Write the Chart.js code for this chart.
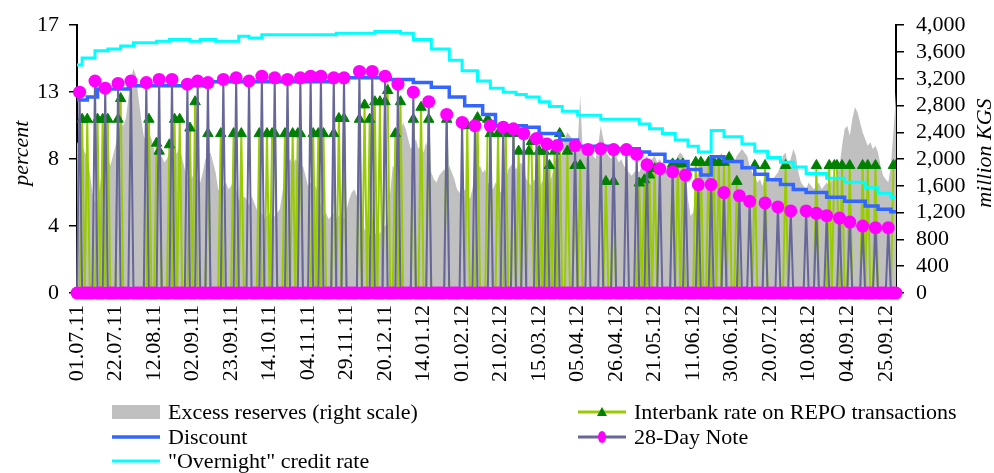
<!DOCTYPE html>
<html>
<head>
<meta charset="utf-8">
<script src="https://cdn.jsdelivr.net/npm/chart.js@4.4.0/dist/chart.umd.min.js"></script>
<style>
body { margin: 0; background: #fff; }
#wrap { position: relative; width: 994px; height: 473px; overflow: hidden; }
#legend { position: absolute; left: 0; top: 0; width: 994px; height: 473px; pointer-events: none; }
.item { position: absolute; height: 24px; display: flex; align-items: center; font-family: "Liberation Serif", "Times New Roman", serif; font-size: 22px; color: #000; white-space: nowrap; }
.item svg { margin-right: 6px; }
</style>
</head>
<body>
<div id="wrap">
<canvas id="myChart" width="994" height="400"></canvas>
<div id="legend"></div>
</div>
<script>
// tick labels, one every 15 working days
const tickLabels = ["01.07.11","22.07.11","12.08.11","02.09.11","23.09.11","14.10.11","04.11.11","29.11.11",
    "20.12.11","14.01.12","01.02.12","21.02.12","15.03.12","05.04.12","26.04.12","21.05.12","11.06.12",
    "30.06.12","20.07.12","10.08.12","04.09.12","25.09.12"];

// excess reserves, million KGS, one value per working day
const excessReserves = [
    2230,2300,2200,2100,2040,1800,1500,1350,1400,1600,1950,2050,2000,1900,2050,2200,2400,2550,2500,2600,
    2900,3200,3350,3250,2900,2600,2350,2250,2400,2300,2150,2000,1900,2050,1950,2000,2100,2150,2050,2100,
    2200,2000,1850,1700,1650,1750,1600,1700,1650,1800,2000,2050,2100,1950,1800,1550,1500,1600,1650,1550,
    1600,1700,1550,1400,1350,1450,1400,1300,1450,1350,1250,1150,1200,1100,1150,1200,1100,1150,1200,1250,
    1500,1800,1950,2000,1900,2000,1950,1850,1900,1750,1600,1650,1550,1600,1450,1300,1150,1200,1100,1150,
    1200,1100,1150,1200,1100,1250,1400,1500,1550,1450,1500,1200,950,900,850,950,900,850,900,950,
    1000,1050,1500,1900,1850,2100,2400,2550,2450,2300,2150,2200,2300,2150,2200,2100,2250,2100,1800,1700,
    1650,1750,1800,1850,1750,1900,1800,1700,1550,1500,1450,1550,1500,1400,1550,1800,1850,1900,1800,1850,
    1650,1600,1550,1650,1600,1500,1600,1700,1850,1900,1950,1850,1900,1950,1850,1700,1650,1600,1700,1650,
    1550,1650,1700,1600,1650,1750,1950,2050,2000,2100,2300,2400,2350,2300,2250,2200,2950,2100,2050,2000,
    2100,2050,2000,2200,2500,2300,2100,2050,2000,2100,2050,1950,2000,1900,1850,1800,1750,1800,1850,1800,
    1900,2000,2050,1950,2000,2050,1950,2000,1900,1850,1900,1950,1850,1900,2050,2100,2050,1900,1400,1150,
    1200,1500,1900,1950,2000,1950,1900,2000,2050,1950,2000,2100,2000,1950,2050,2000,1950,2050,2100,2150,
    2100,2050,1900,1800,1750,1650,1700,1600,1750,1700,1650,1700,1750,1800,1900,2050,2100,1900,2000,2150,
    2050,1800,1650,1600,1550,1650,1600,1550,1600,1650,1550,1600,1650,1600,1700,1650,1750,1900,2200,2450,
    2500,2350,2600,2780,2700,2550,2400,2300,2200,2250,2150,2200,2100,1900,1750,1700,1650,1900,2400,3000
];

// discount rate, %, day index where a new rate starts
const discountDays = [0,4,8,20,50,100,122,131,138,145,151,158,163,175,180,188,195,208,219,223,229,238,243,247,252,259,264,269,274,279,284,292,299,307,312,317,319];
const discountRates = [12.1,12.3,12.8,13.0,13.25,13.5,13.4,13.2,12.9,12.3,11.75,11.2,10.5,10.4,10.0,9.6,9.2,9.05,8.85,8.7,8.25,7.75,7.4,8.55,8.25,7.85,7.45,7.1,6.8,6.5,6.3,6.0,5.75,5.45,5.25,5.1,5.1];

// "overnight" credit rate, %
const overnightDays = [0,2,7,12,17,22,31,36,44,48,54,63,67,72,101,116,126,131,138,145,150,156,161,166,171,175,180,184,189,195,204,219,223,228,233,238,242,247,252,259,264,269,274,279,284,292,299,307,312,317,319];
const overnightRates = [14.3,14.75,15.2,15.3,15.5,15.7,15.8,15.9,15.8,15.9,15.8,16.1,16.0,16.2,16.3,16.4,16.3,15.9,15.3,14.6,13.95,13.3,12.85,12.6,12.45,12.3,12.0,11.7,11.4,11.15,10.9,10.6,10.3,10.0,9.6,9.2,8.85,10.2,9.8,9.35,8.9,8.5,8.2,7.9,7.5,7.2,6.95,6.6,6.25,6.0,6.0];

// interbank REPO rate, %, only on days with deals (0 otherwise)
const repoDays = [2,4,8,10,12,16,17,28,31,32,36,38,40,44,46,51,56,61,64,71,74,76,77,81,84,86,87,92,94,96,
    100,102,104,110,112,114,116,118,120,121,124,126,131,134,137,144,152,156,160,161,164,167,170,172,176,177,
    180,182,184,186,188,191,194,196,206,209,219,221,223,225,232,234,236,241,243,246,248,250,252,254,257,
    264,268,276,288,293,295,296,298,301,306,308,311,318,319];
const repoRates = [10.9,10.9,10.9,10.9,10.9,10.9,12.2,10.9,9.4,8.9,9.3,10.9,10.9,10.35,12.0,10.0,10.0,10.0,10.0,10.0,
    10.0,10.0,10.0,10.0,10.0,10.0,10.0,10.0,10.0,10.0,10.0,10.95,10.95,10.9,11.8,10.9,12.0,12.0,12.0,12.7,
    10.0,12.0,10.9,11.65,10.9,10.9,10.5,11.0,10.9,10.0,10.0,10.0,10.0,8.9,8.9,9.5,8.9,8.9,8.0,8.9,
    10.0,8.9,8.0,8.0,7.0,7.0,6.9,7.1,7.4,7.8,8.1,8.1,8.1,8.2,8.2,8.2,8.2,8.2,8.2,8.5,
    7.0,8.0,8.0,8.0,8.0,8.0,8.0,8.0,8.0,8.0,8.0,8.0,8.0,8.0,8.0];

// 28-day notes, %, auction days only (0 otherwise)
const noteDays = [1,7,11,16,21,27,32,37,43,47,51,57,62,67,72,77,82,87,91,95,100,104,110,115,120,125,131,137,144,150,
    155,161,166,170,174,179,183,187,194,199,204,209,214,218,222,227,232,237,242,247,252,258,262,268,273,278,284,288,292,297,
    301,306,311,316];
const noteRates = [12.6,13.3,12.85,13.15,13.3,13.2,13.4,13.4,13.1,13.3,13.2,13.4,13.5,13.3,13.6,13.5,13.4,13.5,13.6,13.6,
    13.5,13.5,13.9,13.9,13.6,13.1,12.6,12.0,11.2,10.7,10.5,10.5,10.4,10.3,10.0,9.7,9.35,9.25,9.25,9.0,
    9.05,9.0,9.0,8.7,8.05,7.8,7.6,7.4,6.8,6.8,6.3,6.1,5.75,5.65,5.4,5.15,5.15,5.0,4.85,4.7,
    4.45,4.2,4.1,4.1];

const dayCount = excessReserves.length;

const toPoints = (days, rates) => days.map((d, i) => ({x: d, y: rates[i]}));

const dailySeries = (days, rates) => {
    const out = [];
    for (let d = 0; d < dayCount; d++) {
        const k = days.indexOf(d);
        out.push({x: d, y: k >= 0 ? rates[k] : 0});
    }
    return out;
};

const serif = '"Liberation Serif", "Times New Roman", serif';

const axisTitles = {
    id: 'axisTitles',
    afterDraw(chart) {
        const c = chart.ctx;
        const area = chart.chartArea;
        const midY = (area.top + area.bottom) / 2 - 6;
        c.save();
        c.font = 'italic 22px ' + serif;
        c.fillStyle = '#000';
        c.textAlign = 'center';
        c.textBaseline = 'middle';
        c.translate(22, midY);
        c.rotate(-Math.PI / 2);
        c.fillText('percent', 0, 0);
        c.restore();
        c.save();
        c.font = 'italic 22px ' + serif;
        c.fillStyle = '#000';
        c.textAlign = 'center';
        c.textBaseline = 'middle';
        c.translate(985, midY);
        c.rotate(-Math.PI / 2);
        c.fillText('million KGS', 0, 0);
        c.restore();
    }
};

const ctx = document.getElementById('myChart').getContext('2d');
const myChart = new Chart(ctx, {
    type: 'line',
    data: {
        datasets: [{
            label: 'Excess reserves (right scale)',
            data: excessReserves.map((v, i) => ({x: i, y: v})),
            yAxisID: 'y1',
            fill: 'origin',
            backgroundColor: '#C0C0C0',
            borderColor: '#C0C0C0',
            borderWidth: 0,
            pointRadius: 0,
            order: 10
        }, {
            label: 'Interbank rate on REPO transactions',
            data: dailySeries(repoDays, repoRates),
            yAxisID: 'y',
            borderColor: '#99CC00',
            borderWidth: 2,
            pointStyle: 'triangle',
            pointRadius: c => (c.raw && c.raw.y > 0 ? 6 : 0),
            pointBackgroundColor: '#008000',
            pointBorderColor: '#008000',
            pointBorderWidth: 1,
            order: 4
        }, {
            label: 'Discount',
            data: toPoints(discountDays, discountRates),
            yAxisID: 'y',
            stepped: 'before',
            borderColor: '#3366FF',
            borderWidth: 3.5,
            pointRadius: 0,
            order: 3
        }, {
            label: '28-Day Note',
            data: dailySeries(noteDays, noteRates),
            yAxisID: 'y',
            borderColor: '#666699',
            borderWidth: 2,
            pointRadius: 6.5,
            pointBackgroundColor: '#FF00FF',
            pointBorderColor: '#FF00FF',
            pointBorderWidth: 0,
            clip: false,
            order: 2
        }, {
            label: '"Overnight" credit rate',
            data: toPoints(overnightDays, overnightRates),
            yAxisID: 'y',
            stepped: 'before',
            borderColor: '#00FFFF',
            borderWidth: 3,
            pointRadius: 0,
            order: 1
        }]
    },
    options: {
        responsive: false,
        animation: false,
        devicePixelRatio: 1,
        layout: {padding: {top: 22, left: 0, right: 0, bottom: 0}},
        plugins: {legend: {display: false}, tooltip: {enabled: false}},
        scales: {
            x: {
                type: 'linear',
                min: 0,
                max: dayCount - 1,
                grid: {display: false},
                border: {display: true, color: '#000', width: 1.5},
                afterFit: s => { s.height = 107; },
                ticks: {
                    stepSize: 15,
                    includeBounds: false,
                    autoSkip: false,
                    maxRotation: 90,
                    minRotation: 90,
                    padding: 4,
                    color: '#000',
                    font: {family: serif, size: 22},
                    callback: (v, i) => tickLabels[i]
                }
            },
            y: {
                position: 'left',
                min: 0,
                max: 16.8,
                grid: {drawOnChartArea: false, drawTicks: true, tickLength: 8, color: '#000', lineWidth: 1.5},
                border: {display: true, color: '#000', width: 2},
                afterFit: s => { s.width = 77; },
                ticks: {
                    stepSize: 4.2,
                    padding: 10,
                    color: '#000',
                    font: {family: serif, size: 22},
                    callback: v => Math.round(v)
                }
            },
            y1: {
                position: 'right',
                min: 0,
                max: 4000,
                grid: {drawOnChartArea: false, drawTicks: true, tickLength: 8, color: '#000', lineWidth: 1.5},
                border: {display: true, color: '#000', width: 2},
                afterFit: s => { s.width = 98; },
                ticks: {
                    stepSize: 400,
                    autoSkip: false,
                    padding: 12,
                    color: '#000',
                    font: {family: serif, size: 22},
                    callback: v => v.toLocaleString('en-US')
                }
            }
        }
    },
    plugins: [axisTitles]
});

// legend laid out in two columns like the original
const legendSpots = [[112, 400], [578, 400], [112, 425], [578, 425], [112, 449]];
const symbolFor = ds => {
    if (ds.fill) {
        return '<svg width="50" height="16"><rect x="0" y="1" width="48" height="14" fill="' + ds.backgroundColor + '"/></svg>';
    }
    let s = '<svg width="50" height="16"><line x1="0" y1="8" x2="48" y2="8" stroke="' + ds.borderColor +
        '" stroke-width="' + Math.max(ds.borderWidth, 3) + '"/>';
    if (ds.pointStyle === 'triangle') {
        s += '<polygon points="24,3 29,12 19,12" fill="' + ds.pointBackgroundColor + '"/>';
    } else if (typeof ds.pointRadius === 'number' && ds.pointRadius > 0) {
        s += '<ellipse cx="24" cy="8" rx="4" ry="6" fill="' + ds.pointBackgroundColor + '"/>';
    }
    return s + '</svg>';
};
const legendBox = document.getElementById('legend');
myChart.data.datasets.forEach((ds, n) => {
    const el = document.createElement('div');
    el.className = 'item';
    el.style.left = legendSpots[n][0] + 'px';
    el.style.top = legendSpots[n][1] + 'px';
    el.innerHTML = symbolFor(ds) + '<span></span>';
    el.querySelector('span').textContent = ds.label;
    legendBox.appendChild(el);
});
</script>
</body>
</html>
